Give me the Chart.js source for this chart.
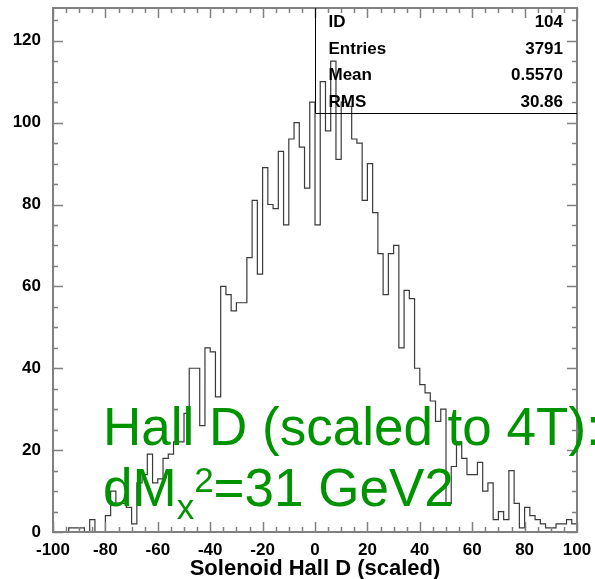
<!DOCTYPE html>
<html>
<head>
<meta charset="utf-8">
<script src="https://cdn.jsdelivr.net/npm/chart.js@4"></script>
<style>
  html, body { margin: 0; padding: 0; background: #fff; }
  #wrap { width: 595px; height: 579px; }
</style>
</head>
<body>
<div id="wrap"><canvas id="hist" width="595" height="579"></canvas></div>
<script>
// histogram range and binning
const xMin = -100;
const xMax = 100;
const yMax = 128;
const binWidth = 2;

// counts per bin, left edge -100 to 98
const counts = [
  0, 0, 0, 1, 1, 1, 0, 3, 0, 0,
  4, 10, 7, 7, 6, 2, 12, 14, 19, 12,
  13, 18, 19, 22, 22, 29, 40, 40, 26, 45,
  44, 33, 60, 58, 54, 56, 56, 67, 81, 63,
  89, 80, 79, 93, 75, 96, 100, 94, 84, 105,
  75, 110, 98, 115, 91, 105, 104, 96, 95, 81,
  90, 78, 68, 58, 68, 70, 45, 59, 57, 40,
  36, 34, 32, 27, 30, 7, 16, 22, 18, 14,
  14, 17, 10, 12, 3, 5, 3, 15, 7, 1,
  6, 4, 3, 2, 1, 1, 2, 2, 3, 2
];

const xTickValues = [-100, -80, -60, -40, -20, 0, 20, 40, 60, 80, 100];
const yTickValues = [0, 20, 40, 60, 80, 100, 120];
const minorStep = 5;

const statLabels = ['ID', 'Entries', 'Mean', 'RMS'];
const statValues = ['104', '3791', '0.5570', '30.86'];
const statBoxBottom = 102.4;

const noteLine1 = 'Hall D (scaled to 4T):';
const noteLine2 = { main: 'dM', sub: 'x', sup: '2', rest: '=31 GeV2' };

const FONT = '"Liberation Sans", Arial, Helvetica, sans-serif';
const GREEN = '#009300';

// points at left bin edges, closed at the right edge
const points = counts.map((c, i) => ({ x: xMin + i * binWidth, y: c }));
points.push({ x: xMax, y: counts[counts.length - 1] });

const decorations = {
  id: 'decorations',
  afterDatasetsDraw(chart) {
    const { ctx, chartArea: a, scales: { x, y } } = chart;
    ctx.save();

    // frame
    ctx.strokeStyle = '#808080';
    ctx.lineWidth = 2;
    ctx.strokeRect(a.left, a.top, a.right - a.left, a.bottom - a.top);

    // inward ticks on all four sides
    ctx.lineWidth = 1.5;
    ctx.beginPath();
    for (let v = xMin; v <= xMax; v += minorStep) {
      const len = v % 20 === 0 ? 10 : 5;
      const px = Math.round(x.getPixelForValue(v)) + 0.5;
      ctx.moveTo(px, a.bottom); ctx.lineTo(px, a.bottom - len);
      ctx.moveTo(px, a.top); ctx.lineTo(px, a.top + len);
    }
    for (let v = 0; v <= yMax; v += minorStep) {
      const len = v % 20 === 0 ? 10 : 5;
      const py = Math.round(y.getPixelForValue(v)) + 0.5;
      ctx.moveTo(a.left, py); ctx.lineTo(a.left + len, py);
      ctx.moveTo(a.right, py); ctx.lineTo(a.right - len, py);
    }
    ctx.stroke();

    // statistics box
    const bx = Math.round(x.getPixelForValue(0)) + 0.5;
    const by = Math.round(y.getPixelForValue(statBoxBottom)) + 0.5;
    ctx.strokeStyle = '#000';
    ctx.lineWidth = 1;
    ctx.beginPath();
    ctx.moveTo(bx, a.top);
    ctx.lineTo(bx, by);
    ctx.lineTo(a.right, by);
    ctx.stroke();

    ctx.fillStyle = '#000';
    ctx.font = 'bold 17px ' + FONT;
    ctx.textBaseline = 'alphabetic';
    statLabels.forEach((lab, i) => {
      const base = a.top + 19 + i * 26.5;
      ctx.textAlign = 'left';
      ctx.fillText(lab, bx + 13, base);
      ctx.textAlign = 'right';
      ctx.fillText(statValues[i], a.right - 14, base);
    });

    // green annotation
    ctx.fillStyle = GREEN;
    ctx.textAlign = 'left';
    ctx.font = '53px ' + FONT;
    ctx.fillText(noteLine1, 103, 445);
    let cx = 103;
    ctx.fillText(noteLine2.main, cx, 506);
    cx += ctx.measureText(noteLine2.main).width;
    ctx.font = '35px ' + FONT;
    ctx.fillText(noteLine2.sub, cx, 519);
    cx += ctx.measureText(noteLine2.sub).width;
    ctx.fillText(noteLine2.sup, cx, 492);
    cx += ctx.measureText(noteLine2.sup).width;
    ctx.font = '53px ' + FONT;
    ctx.fillText(noteLine2.rest, cx, 506);

    ctx.restore();
  }
};

new Chart(document.getElementById('hist'), {
  type: 'line',
  data: {
    datasets: [{
      data: points,
      stepped: 'before',
      borderColor: '#3a3a3a',
      borderWidth: 1.2,
      pointRadius: 0,
      fill: false,
      tension: 0,
    }],
  },
  options: {
    responsive: false,
    animation: false,
    devicePixelRatio: 1,
    layout: { padding: { left: 0, top: 8, right: 18, bottom: 0 } },
    plugins: { legend: { display: false }, tooltip: { enabled: false } },
    scales: {
      x: {
        type: 'linear',
        min: xMin,
        max: xMax,
        afterBuildTicks: s => { s.ticks = xTickValues.map(v => ({ value: v })); },
        afterFit: s => { s.height = 47; s.paddingLeft = 0; s.paddingRight = 0; },
        grid: { display: false, drawTicks: false },
        border: { display: false },
        ticks: {
          padding: 8,
          maxRotation: 0,
          autoSkip: false,
          color: '#000',
          font: { family: FONT, size: 17, weight: 'bold' },
        },
        title: {
          display: true,
          text: 'Solenoid Hall D (scaled)',
          color: '#000',
          font: { family: FONT, size: 22, weight: 'bold', lineHeight: 0.95 },
          padding: { top: 0, bottom: 0 },
        },
      },
      y: {
        type: 'linear',
        min: 0,
        max: yMax,
        afterBuildTicks: s => { s.ticks = yTickValues.map(v => ({ value: v })); },
        afterFit: s => { s.width = 53; s.paddingTop = 0; s.paddingBottom = 0; },
        grid: { display: false, drawTicks: false },
        border: { display: false },
        ticks: {
          padding: 12,
          color: '#000',
          font: { family: FONT, size: 17, weight: 'bold' },
        },
      },
    },
  },
  plugins: [decorations],
});
</script>
</body>
</html>
